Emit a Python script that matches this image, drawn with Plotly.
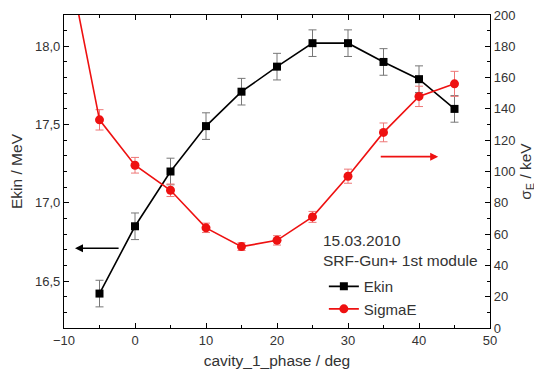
import plotly.graph_objects as go

phase = [-5, 0, 5, 10, 15, 20, 25, 30, 35, 40, 45]
ekin = [16.42, 16.85, 17.20, 17.49, 17.71, 17.87, 18.02, 18.02, 17.90, 17.79, 17.60]
ekin_err = [0.085, 0.085, 0.085, 0.085, 0.085, 0.085, 0.085, 0.085, 0.085, 0.085, 0.085]

phase_s = [-10, -5, 0, 5, 10, 15, 20, 25, 30, 35, 40, 45]
sigma = [248, 133, 104, 88, 64, 52, 56, 71, 97, 125, 148, 156]
sigma_err = [0, 6.5, 5, 4, 3, 2.5, 3, 3.5, 4.5, 6, 6.5, 8]

font = "Liberation Sans, Arial, sans-serif"
txt = "#333333"

fig = go.Figure()
fig.add_trace(go.Scatter(
    x=phase, y=ekin, name="Ekin", mode="lines+markers",
    line=dict(color="black", width=1.6),
    marker=dict(symbol="square", size=8, color="black"),
    error_y=dict(type="data", array=ekin_err, color="#777777", thickness=1, width=4),
    yaxis="y", cliponaxis=True,
))
fig.add_trace(go.Scatter(
    x=phase_s, y=sigma, name="SigmaE", mode="lines+markers",
    line=dict(color="#ee1111", width=1.6),
    marker=dict(symbol="circle", size=9, color="#ee1111"),
    error_y=dict(type="data", array=sigma_err, color="#ee7777", thickness=1, width=4),
    yaxis="y2", cliponaxis=True,
))

fig.update_layout(
    width=534, height=366,
    margin=dict(l=56, r=52, t=7, b=46, autoexpand=False),
    paper_bgcolor="white", plot_bgcolor="white",
    separators=",.",
    font=dict(family=font, size=13, color=txt),
    showlegend=True,
    legend=dict(x=0.61, y=0.185, xanchor="left", yanchor="top",
                bgcolor="rgba(0,0,0,0)", font=dict(size=15, color=txt),
                itemwidth=30, tracegroupgap=0),
    xaxis=dict(range=[-10, 50], tickvals=[-10, 0, 10, 20, 30, 40, 50],
               ticks="inside", ticklen=5, tickcolor="black", showline=True,
               linecolor="black", linewidth=1.2, mirror="ticks", showgrid=False,
               zeroline=False, automargin=False, ticklabeloverflow="allow",
               minor=dict(dtick=5, tick0=0, ticks="inside", ticklen=3, tickcolor="black"),
               title=dict(text="cavity_1_phase / deg", font=dict(size=15.5, color=txt), standoff=8),
               tickfont=dict(size=13, color=txt)),
    yaxis=dict(range=[16.2, 18.2], tickvals=[16.5, 17.0, 17.5, 18.0], tickformat=".1f",
               ticks="inside", ticklen=5, tickcolor="black", showline=True,
               linecolor="black", linewidth=1.2, showgrid=False, zeroline=False,
               automargin=False, ticklabeloverflow="allow",
               minor=dict(dtick=0.1, tick0=16.2, ticks="inside", ticklen=3, tickcolor="black"),
               title=dict(text="Ekin / MeV", font=dict(size=15.5, color=txt), standoff=10),
               tickfont=dict(size=13, color=txt)),
    yaxis2=dict(range=[0, 200], tickvals=list(range(0, 201, 20)), overlaying="y", side="right",
                ticks="inside", ticklen=5, tickcolor="black", showline=True,
                linecolor="black", linewidth=1.2, showgrid=False, zeroline=False,
                automargin=False, ticklabeloverflow="allow",
                minor=dict(dtick=10, tick0=0, ticks="inside", ticklen=3, tickcolor="black"),
                title=dict(text="σ<sub>E</sub> / keV", font=dict(size=15.5, color=txt), standoff=5),
                tickfont=dict(size=13, color=txt)),
)

fig.add_annotation(x=-8.45, y=16.71, ax=-2.1, ay=16.71, xref="x", yref="y",
                   axref="x", ayref="y", showarrow=True, arrowhead=2, arrowsize=1,
                   arrowwidth=1.6, arrowcolor="black", text="")
fig.add_annotation(x=42.7, y=109.5, ax=34.4, ay=109.5, xref="x", yref="y2",
                   axref="x", ayref="y2", showarrow=True, arrowhead=2, arrowsize=1,
                   arrowwidth=1.6, arrowcolor="#ee1111", text="")
fig.add_annotation(x=0.603, y=0.28, xref="paper", yref="paper", xanchor="left",
                   yanchor="middle", showarrow=False, align="left",
                   text="15.03.2010", font=dict(size=15.5, color=txt))
fig.add_annotation(x=0.603, y=0.215, xref="paper", yref="paper", xanchor="left",
                   yanchor="middle", showarrow=False, align="left",
                   text="SRF-Gun+ 1st module", font=dict(size=15.5, color=txt))

fig.write_html("out.html")
